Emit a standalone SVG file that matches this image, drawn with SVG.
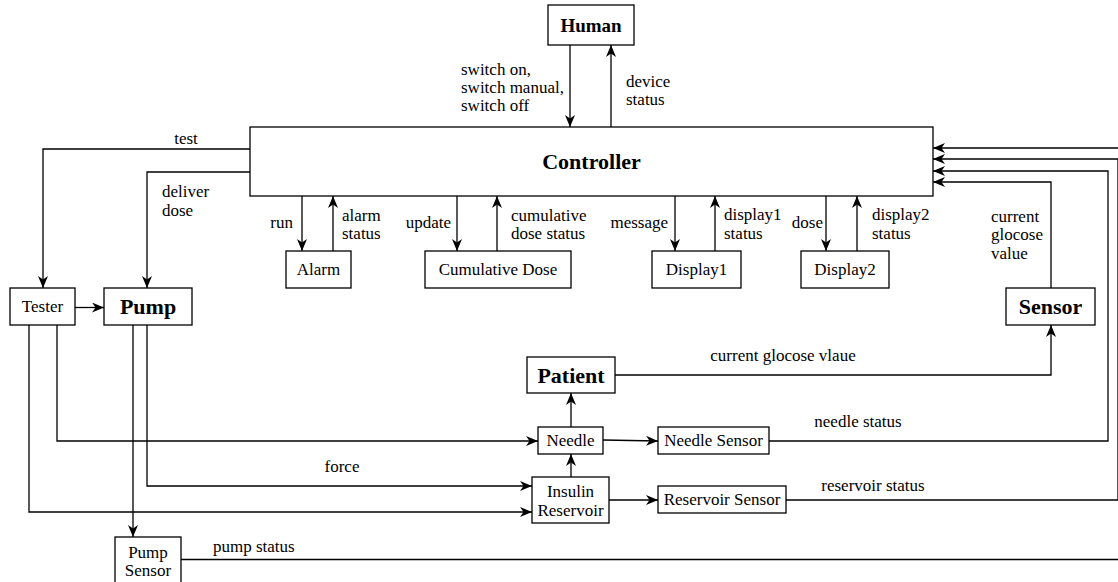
<svg xmlns="http://www.w3.org/2000/svg" width="1118" height="582" viewBox="0 0 1118 582">
  <style>
    .box { fill: #fff; stroke: #000; stroke-width: 1.3; }
    text { font-family: 'Liberation Serif', Tinos, 'Times New Roman', Times, 'DejaVu Serif', serif; font-size: 17px; fill: #000; }
    .node { text-anchor: middle; dominant-baseline: central; }
    .big { font-weight: bold; font-size: 22px; }
    .wire { fill: none; stroke: #000; stroke-width: 1.3; }
    .arrow { marker-end: url(#head); }
  </style>
  <defs>
    <marker id="head" markerUnits="userSpaceOnUse" markerWidth="13" markerHeight="11" refX="12" refY="5" orient="auto">
      <path d="M0,0 L12,5 L0,10 L3.5,5 Z" fill="#000"/>
    </marker>
  </defs>

  <!-- connectors -->
  <g id="connectors">
    <path class="wire arrow" d="M570,45 V127"/>
    <path class="wire arrow" d="M611,127 V45"/>
    <path class="wire arrow" d="M250,149 H43 V288"/>
    <path class="wire arrow" d="M250,172 H147 V288"/>
    <path class="wire arrow" d="M75,307.5 H104"/>
    <path class="wire arrow" d="M302,196 V251"/>
    <path class="wire arrow" d="M333,251 V196"/>
    <path class="wire arrow" d="M457,196 V251"/>
    <path class="wire arrow" d="M497,251 V196"/>
    <path class="wire arrow" d="M675,196 V251"/>
    <path class="wire arrow" d="M715,251 V196"/>
    <path class="wire arrow" d="M826,196 V251"/>
    <path class="wire arrow" d="M857,251 V196"/>
    <path class="wire arrow" d="M1051,288 V182 H933"/>
    <path class="wire arrow" d="M769,441 H1108 V171 H933"/>
    <path class="wire arrow" d="M786,500 H1118 V159 H933"/>
    <path class="wire arrow" d="M181,559.5 H1122 V148 H933"/>
    <path class="wire arrow" d="M615,375 H1051 V325"/>
    <path class="wire arrow" d="M571,427 V393"/>
    <path class="wire arrow" d="M571,477 V454"/>
    <path class="wire arrow" d="M603,440 L658,441"/>
    <path class="wire arrow" d="M609,500 H658"/>
    <path class="wire arrow" d="M57,325 V441 H538"/>
    <path class="wire arrow" d="M147,325 V486 H532"/>
    <path class="wire arrow" d="M29,325 V512 H532"/>
    <path class="wire arrow" d="M133,325 V537"/>
  </g>

  <!-- connector labels -->
  <g id="labels">
    <text x="461" y="75">switch on,</text>
    <text x="461" y="93">switch manual,</text>
    <text x="461" y="111">switch off</text>
    <text x="626" y="87">device</text>
    <text x="626" y="105">status</text>
    <text x="186" y="144" text-anchor="middle">test</text>
    <text x="162" y="197">deliver</text>
    <text x="162" y="216">dose</text>
    <text x="293" y="228" text-anchor="end">run</text>
    <text x="342" y="221">alarm</text>
    <text x="342" y="239">status</text>
    <text x="451" y="228" text-anchor="end">update</text>
    <text x="511" y="221">cumulative</text>
    <text x="511" y="239">dose status</text>
    <text x="668" y="228" text-anchor="end">message</text>
    <text x="724" y="220">display1</text>
    <text x="724" y="239">status</text>
    <text x="823" y="228" text-anchor="end">dose</text>
    <text x="872" y="220">display2</text>
    <text x="872" y="239">status</text>
    <text x="991" y="222">current</text>
    <text x="991" y="240">glocose</text>
    <text x="991" y="259">value</text>
    <text x="783" y="361" text-anchor="middle">current glocose vlaue</text>
    <text x="858" y="427" text-anchor="middle">needle status</text>
    <text x="342" y="472" text-anchor="middle">force</text>
    <text x="873" y="491" text-anchor="middle">reservoir status</text>
    <text x="213" y="552">pump status</text>
  </g>

  <!-- nodes -->
  <g id="human">
    <rect class="box" x="548" y="5" width="86" height="40"/>
    <text class="node big" x="591" y="25" style="font-size:19px">Human</text>
  </g>
  <g id="controller">
    <rect class="box" x="250" y="127" width="683" height="69"/>
    <text class="node big" x="591.5" y="161.5">Controller</text>
  </g>
  <g id="tester">
    <rect class="box" x="10" y="288" width="65" height="37"/>
    <text class="node" x="42.5" y="306.5">Tester</text>
  </g>
  <g id="pump">
    <rect class="box" x="104" y="288" width="88" height="37"/>
    <text class="node big" x="148" y="306.5">Pump</text>
  </g>
  <g id="alarm">
    <rect class="box" x="286" y="251" width="65" height="37"/>
    <text class="node" x="318.5" y="269.5">Alarm</text>
  </g>
  <g id="cumulative-dose">
    <rect class="box" x="425" y="251" width="146" height="37"/>
    <text class="node" x="498" y="269.5">Cumulative Dose</text>
  </g>
  <g id="display1">
    <rect class="box" x="652" y="251" width="89" height="37"/>
    <text class="node" x="696.5" y="269.5">Display1</text>
  </g>
  <g id="display2">
    <rect class="box" x="801" y="251" width="88" height="37"/>
    <text class="node" x="845" y="269.5">Display2</text>
  </g>
  <g id="sensor">
    <rect class="box" x="1006" y="288" width="89" height="37"/>
    <text class="node big" x="1050.5" y="306.5">Sensor</text>
  </g>
  <g id="patient">
    <rect class="box" x="527" y="357" width="88" height="36"/>
    <text class="node big" x="571" y="375">Patient</text>
  </g>
  <g id="needle">
    <rect class="box" x="538" y="427" width="65" height="27"/>
    <text class="node" x="570.5" y="440.5">Needle</text>
  </g>
  <g id="needle-sensor">
    <rect class="box" x="658" y="427" width="111" height="27"/>
    <text class="node" x="713.5" y="440.5">Needle Sensor</text>
  </g>
  <g id="insulin-reservoir">
    <rect class="box" x="532" y="477" width="77" height="46"/>
    <text class="node" x="570.5" y="491">Insulin</text>
    <text class="node" x="570.5" y="510">Reservoir</text>
  </g>
  <g id="reservoir-sensor">
    <rect class="box" x="658" y="486" width="128" height="27"/>
    <text class="node" x="722" y="499.5">Reservoir Sensor</text>
  </g>
  <g id="pump-sensor">
    <rect class="box" x="115" y="537" width="66" height="50"/>
    <text class="node" x="148" y="552">Pump</text>
    <text class="node" x="148" y="570">Sensor</text>
  </g>
</svg>
